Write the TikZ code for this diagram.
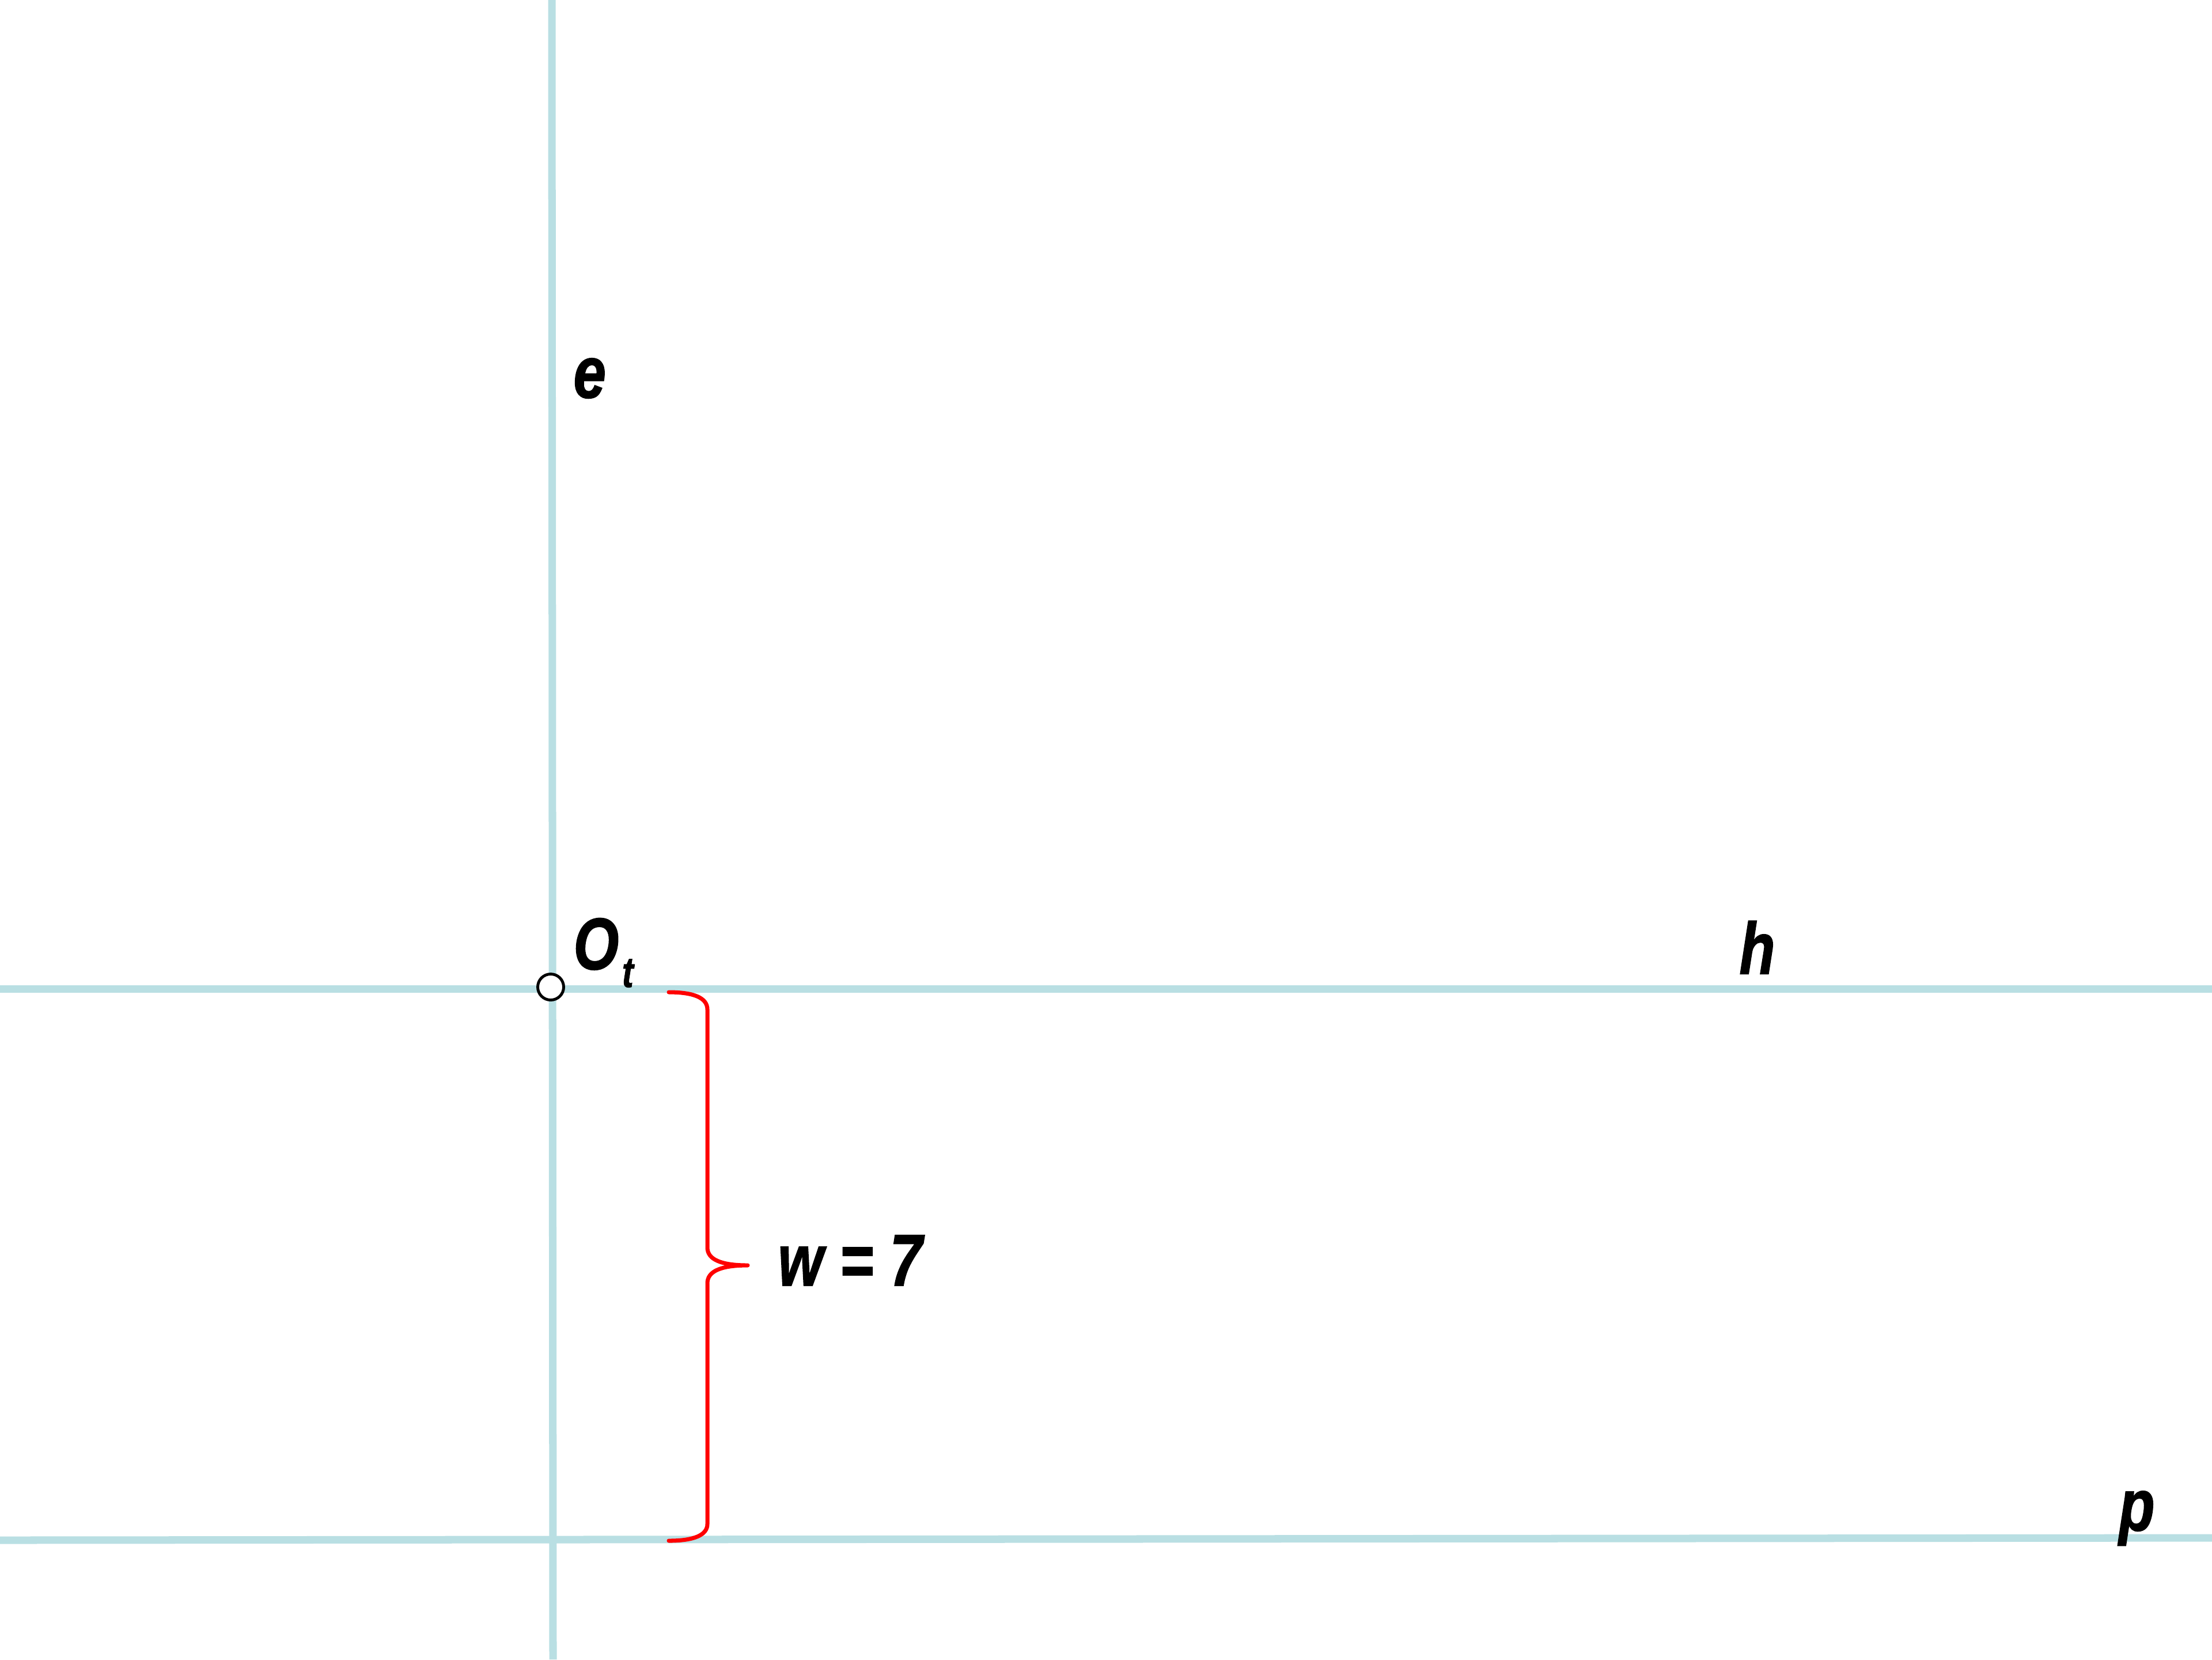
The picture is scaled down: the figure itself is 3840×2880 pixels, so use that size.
\documentclass[tikz,border=0pt]{standalone}
\usepackage{fontspec}
\setmainfont{Liberation Sans}
\newfontfamily\labfont[UprightFont={* Bold Italic},FakeBold=1.6]{Liberation Sans}
\definecolor{axisblue}{RGB}{185,223,227}
\definecolor{bracered}{RGB}{255,0,0}
\begin{document}
\begin{tikzpicture}[x=0.01cm,y=-0.01cm,
  axisline/.style={draw=axisblue,line width=3.7pt},
  bracepath/.style={draw=bracered,line width=2pt,line cap=round,line join=round},
  ptmark/.style={circle,draw=black,fill=white,line width=1.4pt,minimum size=0.45cm,inner sep=0pt},
  lab/.style={font=\labfont\fontsize{36}{40}\selectfont,inner sep=0pt,anchor=base west,xscale=0.8}]
\useasboundingbox (0,0) rectangle (3840,2880);
\fill[white] (0,0) rectangle (3840,2880);
% line end points
\coordinate (vt) at (958,0);
\coordinate (vb) at (960,2880);
\coordinate (hl) at (0,1716);
\coordinate (hr) at (3840,1716);
\coordinate (pl) at (0,2673);
\coordinate (pr) at (3840,2669);
\draw[axisline] (vt) -- (vb);
\draw[axisline] (hl) -- (hr);
\draw[axisline] (pl) -- (pr);
% brace
\coordinate (bt) at (1161,1722);
\coordinate (bb) at (1161,2674);
\coordinate (btip) at (1298,2196);
\draw[bracepath] (bt) .. controls (1205,1722) and (1228,1732) .. (1228,1752)
  -- (1228,2165) .. controls (1228,2186) and (1252,2196) .. (btip)
  .. controls (1252,2196) and (1228,2206) .. (1228,2227)
  -- (1228,2645) .. controls (1228,2664) and (1205,2674) .. (bb);
% point
\node[ptmark] (Ot) at (956,1713) {};
% labels
\node[lab] (le) at (995,690) {e};
\node[lab] (lO) at (995,1682) {O\kern2pt\raisebox{-8.8pt}{\fontsize{21}{21}\selectfont t}};
\node[lab] (lh) at (3019,1690) {h};
\node[lab] (lp) at (3678,2656) {p};
\node[lab] (lw) at (1350,2231) {w = 7};
\end{tikzpicture}
\end{document}
